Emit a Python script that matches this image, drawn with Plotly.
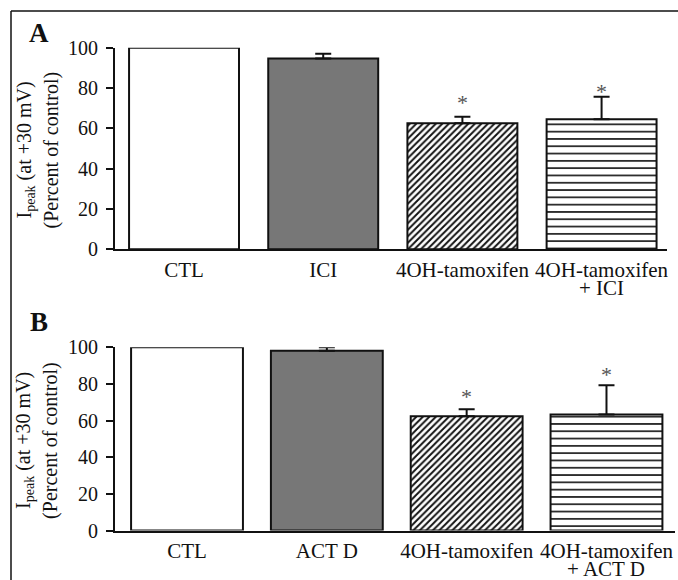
import plotly.graph_objects as go

# ---- data ----
categories_a = ["CTL", "ICI", "4OH-tamoxifen", "4OH-tamoxifen<br>+ ICI"]
values_a = [100, 94.7, 62.5, 64.5]
errors_a = [0, 2.3, 3.3, 11.2]
signif_a = ["", "", "*", "*"]
star_height_a = [None, None, 74.9, 80.4]

categories_b = ["CTL", "ACT D", "4OH-tamoxifen", "4OH-tamoxifen<br>+ ACT D"]
values_b = [100, 98.1, 62.4, 63.3]
errors_b = [0, 1.9, 3.8, 16.0]
signif_b = ["", "", "*", "*"]
star_height_b = [None, None, 75.2, 87.6]

yticks = [0, 20, 40, 60, 80, 100]
ytitle_line1 = "I<sub>peak</sub> (at +30 mV)"
ytitle_line2 = "(Percent of control)"
panel_labels = ["A", "B"]

# ---- styles ----
SERIF = "Liberation Serif, Times New Roman, serif"
W, H = 678, 580
bar_colors = ["white", "#777777", "white", "white"]
pattern_shapes = ["", "", "/", "-"]
pattern_sizes = [8, 8, 4.6, 7.3]
pattern_solidity = [0.3, 0.3, 0.42, 0.22]

fig = go.Figure()

panels = [
    dict(cats=categories_a, vals=values_a, errs=errors_a, sig=signif_a, star=star_height_a,
         xa="x", ya="y", xdom=[115 / W, 667 / W], ydom=[1 - 249.3 / H, 1 - 47.7 / H],
         xr=[-0.496, 3.47], width=0.79, label_xy=(39, 33)),
    dict(cats=categories_b, vals=values_b, errs=errors_b, sig=signif_b, star=star_height_b,
         xa="x2", ya="y2", xdom=[115 / W, 675 / W], ydom=[1 - 530.5 / H, 1 - 347.3 / H],
         xr=[-0.515, 3.49], width=0.80, label_xy=(39, 322)),
]

annotations = []
for pi, p in enumerate(panels):
    idx = list(range(len(p["cats"])))
    for i in idx:
        fig.add_trace(go.Bar(
            x=[i], y=[p["vals"][i]], width=p["width"],
            xaxis=p["xa"], yaxis=p["ya"],
            marker=dict(
                color=bar_colors[i],
                line=dict(color="#111111", width=2),
                pattern=dict(shape=pattern_shapes[i], size=pattern_sizes[i],
                             solidity=pattern_solidity[i], fgcolor="#111111",
                             bgcolor=bar_colors[i], fillmode="replace"),
            ),
            error_y=dict(type="data", symmetric=False, array=[p["errs"][i]],
                         arrayminus=[0], color="#111111", thickness=2, width=8,
                         visible=p["errs"][i] > 0),
            showlegend=False, cliponaxis=False,
        ))
        if p["sig"][i]:
            annotations.append(dict(
                x=i, y=p["star"][i], xref=p["xa"], yref=p["ya"],
                text=p["sig"][i], showarrow=False, yanchor="middle", yshift=-4,
                font=dict(family=SERIF, size=22, color="#555555")))
        # second line of category label
        parts = p["cats"][i].split("<br>")
        if len(parts) > 1:
            annotations.append(dict(
                x=i, y=0, xref=p["xa"], yref=p["ya"], text=parts[1],
                showarrow=False, yanchor="middle", yshift=-38.5,
                font=dict(family=SERIF, size=21, color="#111111")))
    ticktext = [c.split("<br>")[0] for c in p["cats"]]
    axis_suffix = "" if pi == 0 else "2"
    fig.update_layout(**{
        "xaxis" + axis_suffix: dict(
            domain=p["xdom"], range=p["xr"], anchor=p["ya"], automargin=False,
            tickvals=idx, ticktext=ticktext, showline=True, linecolor="#111111",
            linewidth=2, ticks="", showgrid=False, zeroline=False, fixedrange=True,
            tickfont=dict(family=SERIF, size=21, color="#111111")),
        "yaxis" + axis_suffix: dict(
            domain=p["ydom"], range=[0, 100], anchor=p["xa"], automargin=False,
            tickvals=yticks, showline=True, linecolor="#111111", linewidth=2,
            ticks="outside", ticklen=7, tickwidth=2, tickcolor="#111111",
            ticklabelstandoff=4,
            showgrid=False, zeroline=False, fixedrange=True,
            tickfont=dict(family=SERIF, size=20, color="#111111")),
    })
    # y title lines
    ymid = (p["ydom"][0] + p["ydom"][1]) / 2
    annotations.append(dict(x=25 / W, y=ymid, xref="paper", yref="paper",
                            text=ytitle_line1, textangle=-90, showarrow=False,
                            xanchor="center", yanchor="middle", yshift=-2,
                            font=dict(family=SERIF, size=20, color="#111111")))
    annotations.append(dict(x=51 / W, y=ymid, xref="paper", yref="paper",
                            text=ytitle_line2, textangle=-90, showarrow=False,
                            xanchor="center", yanchor="middle", yshift=-2,
                            font=dict(family=SERIF, size=20, color="#111111")))
    lx, ly = p["label_xy"]
    annotations.append(dict(x=lx / W, y=1 - ly / H, xref="paper", yref="paper",
                            text="<b>" + panel_labels[pi] + "</b>", showarrow=False,
                            xanchor="center", yanchor="middle",
                            font=dict(family=SERIF, size=27, color="#111111")))

shapes = [
    dict(type="line", xref="paper", yref="paper", x0=11 / W, x1=1.0,
         y0=1 - 11 / H, y1=1 - 11 / H, line=dict(color="#111111", width=1.5)),
    dict(type="line", xref="paper", yref="paper", x0=11 / W, x1=11 / W,
         y0=0, y1=1 - 11 / H, line=dict(color="#111111", width=1.5)),
]

fig.update_layout(
    template="none",
    width=W, height=H, margin=dict(l=0, r=0, t=0, b=0, pad=0), autosize=False,
    paper_bgcolor="white", plot_bgcolor="white",
    annotations=annotations, shapes=shapes, barmode="overlay",
    font=dict(family=SERIF, color="#111111"),
)

fig.write_html("out.html", config={"displayModeBar": False})
